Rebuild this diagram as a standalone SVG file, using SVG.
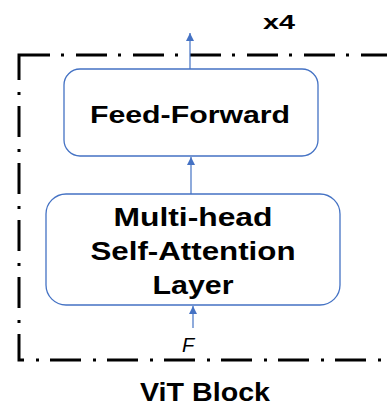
<svg xmlns="http://www.w3.org/2000/svg" width="387" height="405" viewBox="0 0 387 405">
<style>
.box{fill:#fff;stroke:#4472C4;stroke-width:1.3}
.conn{stroke:#4472C4;stroke-width:1.2;fill:none;marker-end:url(#ah)}
.t{font-family:"Liberation Sans",Arial,sans-serif;font-weight:bold;fill:#000;text-anchor:middle}
.frame{fill:none;stroke:#000;stroke-width:3;stroke-dasharray:31 11 3 12}
</style>
<defs>
<marker id="ah" viewBox="0 0 8 10" refX="8" refY="5" markerWidth="8" markerHeight="10" markerUnits="userSpaceOnUse" orient="auto">
<path d="M0,1 L8,5 L0,9 Z" fill="#4472C4"/>
</marker>
</defs>
<rect id="vit-frame" class="frame" x="19" y="55" width="420" height="305"/>
<g id="mhsa">
<rect class="box" x="46" y="194" width="294" height="111" rx="20"/>
<text class="t" x="193" y="226" font-size="25" textLength="159" lengthAdjust="spacingAndGlyphs">Multi-head</text>
<text class="t" x="193" y="260" font-size="25" textLength="205" lengthAdjust="spacingAndGlyphs">Self-Attention</text>
<text class="t" x="193" y="294" font-size="25" textLength="81" lengthAdjust="spacingAndGlyphs">Layer</text>
</g>
<g id="ff">
<rect class="box" x="64" y="69" width="254" height="87" rx="16"/>
<text class="t" x="190" y="123" font-size="24" textLength="200" lengthAdjust="spacingAndGlyphs">Feed-Forward</text>
</g>
<g id="connectors">
<line class="conn" x1="193" y1="328" x2="193" y2="306"/>
<line class="conn" x1="191" y1="194" x2="191" y2="157"/>
<line class="conn" x1="190" y1="69" x2="190" y2="33"/>
</g>
<text id="f-label" x="188" y="352" font-family="Liberation Sans,Arial,sans-serif" font-style="italic" font-size="20" text-anchor="middle">F</text>
<text id="x4" class="t" x="279" y="29" font-size="21" textLength="32" lengthAdjust="spacingAndGlyphs">x4</text>
<text id="vit-label" class="t" x="205" y="401" font-size="25" textLength="130" lengthAdjust="spacingAndGlyphs">ViT Block</text>
</svg>
